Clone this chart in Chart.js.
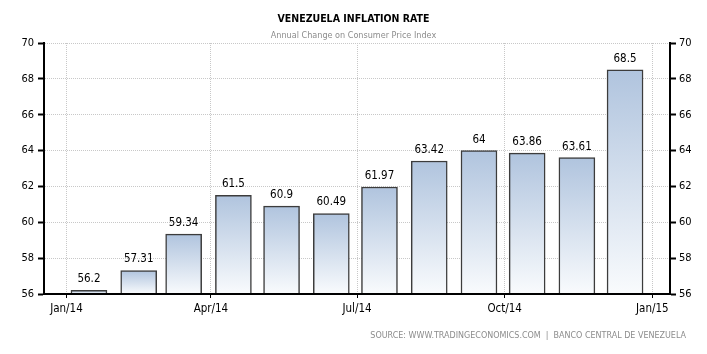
<!DOCTYPE html>
<html>
<head>
<meta charset="utf-8">
<script src="https://cdn.jsdelivr.net/npm/chart.js@4"></script>
<style>
html,body{margin:0;padding:0;background:#fff;}
#wrap{width:707px;height:354px;position:relative;}
</style>
</head>
<body>
<div id="wrap"><canvas id="c" width="707" height="354"></canvas></div>
<script>
// ---- data ----
const months = ['2014-01-15','2014-02-15','2014-03-15','2014-04-15','2014-05-15','2014-06-15',
                '2014-07-15','2014-08-15','2014-09-15','2014-10-15','2014-11-15','2014-12-15'];
const inflation = [56.2, 57.31, 59.34, 61.5, 60.9, 60.49, 61.97, 63.42, 64, 63.86, 63.61, 68.5];
const tickDates = ['2014-01-01','2014-04-01','2014-07-01','2014-10-01','2015-01-01'];
const tickLabels = ['Jan/14','Apr/14','Jul/14','Oct/14','Jan/15'];
const yTicks = [56, 58, 60, 62, 64, 66, 68, 70];
const titleText = 'VENEZUELA INFLATION RATE';
const subtitleText = 'Annual Change on Consumer Price Index';
const sourceText = 'SOURCE: WWW.TRADINGECONOMICS.COM  |  BANCO CENTRAL DE VENEZUELA';

const DAY = 86400000;
const origin = Date.parse('2014-01-01');
const toDay = d => (Date.parse(d) - origin) / DAY;
const points = months.map((m, i) => ({x: toDay(m), y: inflation[i]}));
const tickDays = tickDates.map(toDay);

const FONT = "'DejaVu Sans Condensed', 'DejaVu Sans', sans-serif";
const FONT_WIDE = "'DejaVu Sans', sans-serif";

const valueLabels = {
  id: 'valueLabels',
  afterDatasetsDraw(chart) {
    const ctx = chart.ctx;
    // redraw the bottom axis line on top of the bars
    chart.scales.x.drawBorder();
    const meta = chart.getDatasetMeta(0);
    ctx.save();
    ctx.font = '11.5px ' + FONT;
    ctx.fillStyle = '#000';
    ctx.textAlign = 'center';
    ctx.textBaseline = 'middle';
    meta.data.forEach((el, i) => {
      ctx.fillText(String(inflation[i]), el.x, el.y - 11);
    });
    ctx.restore();
  }
};

const sourcePlugin = {
  id: 'sourceText',
  afterDraw(chart) {
    const ctx = chart.ctx;
    ctx.save();
    ctx.font = '8px ' + FONT_WIDE;
    ctx.fillStyle = '#8c8c8c';
    ctx.textAlign = 'right';
    ctx.textBaseline = 'middle';
    ctx.fillText(sourceText, 686, 336);
    ctx.restore();
  }
};

function barGradient(c) {
  const chart = c.chart;
  const ys = chart.scales.y;
  if (!ys || !c.parsed) return '#c8d4e6';
  const top = ys.getPixelForValue(c.parsed.y);
  const base = ys.bottom;
  if (!isFinite(top) || !isFinite(base) || base <= top) return '#c8d4e6';
  const g = chart.ctx.createLinearGradient(0, top, 0, base);
  g.addColorStop(0, '#b0c4de');
  g.addColorStop(1, '#f9fbfd');
  return g;
}

new Chart(document.getElementById('c'), {
  type: 'bar',
  data: {
    datasets: [{
      data: points,
      backgroundColor: barGradient,
      borderColor: '#3c3c3c',
      borderWidth: 1.5,
      borderSkipped: 'start',
      barThickness: 36
    }]
  },
  options: {
    responsive: false,
    animation: false,
    layout: {padding: 0},
    plugins: {
      legend: {display: false},
      tooltip: {enabled: false},
      title: {
        display: true, text: titleText, color: '#000',
        font: {family: FONT, size: 10.5, weight: 'bold', lineHeight: 1.2},
        padding: {top: 13, bottom: 3}
      },
      subtitle: {
        display: true, text: subtitleText, color: '#8c8c8c',
        font: {family: FONT, size: 9, lineHeight: 1.2},
        padding: {top: 2, bottom: 1.6}
      }
    },
    scales: {
      x: {
        type: 'linear',
        offset: false,
        min: -14, max: 376,
        afterBuildTicks(s) { s.ticks = tickDays.map(v => ({value: v})); },
        afterFit(s) { s.height = 60; },
        ticks: {
          color: '#000', font: {family: FONT, size: 11.5}, padding: 4,
          maxRotation: 0, autoSkip: false,
          callback(v) { const i = tickDays.indexOf(v); return i >= 0 ? tickLabels[i] : ''; }
        },
        grid: {offset: false, color: '#c8c8c8', lineWidth: 1, tickColor: '#000', tickLength: 4, tickWidth: 1, tickBorderDash: []},
        border: {display: true, color: '#000', width: 2, dash: [1, 1]}
      },
      y: {
        position: 'left',
        min: 56, max: 70,
        afterBuildTicks(s) { s.ticks = yTicks.map(v => ({value: v})); },
        afterFit(s) { s.width = 44; },
        ticks: {color: '#000', font: {family: FONT, size: 11}, padding: 4},
        grid: {color: '#c8c8c8', lineWidth: 1, tickColor: '#000', tickLength: 6, tickWidth: 2, tickBorderDash: []},
        border: {display: true, color: '#000', width: 2, dash: [1, 1]}
      },
      y2: {
        position: 'right',
        min: 56, max: 70,
        afterBuildTicks(s) { s.ticks = yTicks.map(v => ({value: v})); },
        afterFit(s) { s.width = 37; },
        ticks: {color: '#000', font: {family: FONT, size: 11}, padding: 3},
        grid: {drawOnChartArea: false, tickColor: '#000', tickLength: 6, tickWidth: 2, tickBorderDash: []},
        border: {display: true, color: '#000', width: 2}
      }
    }
  },
  plugins: [valueLabels, sourcePlugin]
});
</script>
</body>
</html>
